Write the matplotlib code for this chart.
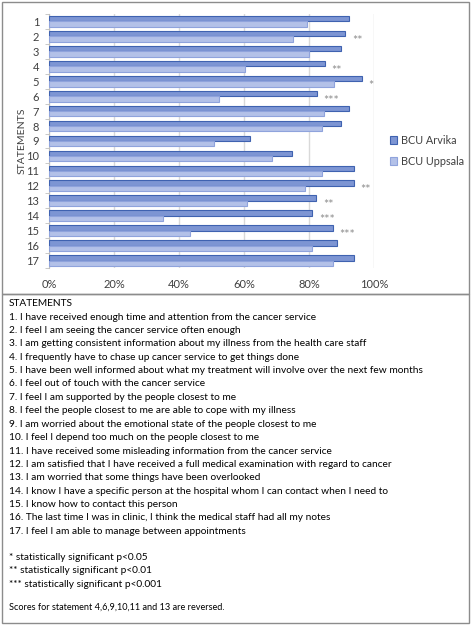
import matplotlib.pyplot as plt
import numpy as np

plt.rcParams['font.family'] = ['Lato', 'DejaVu Sans']

statements = list(range(1, 18))
arvika = [0.924, 0.912, 0.898, 0.849, 0.963, 0.824, 0.924, 0.898, 0.619,
          0.747, 0.937, 0.937, 0.823, 0.810, 0.874, 0.886, 0.937]
uppsala = [0.793, 0.750, 0.800, 0.603, 0.876, 0.522, 0.847, 0.839, 0.507,
           0.685, 0.839, 0.787, 0.610, 0.352, 0.434, 0.808, 0.874]
signif = {2: '**', 4: '**', 5: '*', 6: '***', 12: '**', 13: '**', 14: '***', 15: '***'}
xticks = [0, 0.2, 0.4, 0.6, 0.8, 1.0]
xlabels = ['0%', '20%', '40%', '60%', '80%', '100%']

texts = [
    "1. I have received enough time and attention from the cancer service",
    "2. I feel I am seeing the cancer service often enough",
    "3. I am getting consistent information about my illness from the health care staff",
    "4. I frequently have to chase up cancer service to get things done",
    "5. I have been well informed about what my treatment will involve over the next few months",
    "6. I feel out of touch with the cancer service",
    "7. I feel I am supported by the people closest to me",
    "8. I feel the people closest to me are able to cope with my illness",
    "9. I am worried about the emotional state of the people closest to me",
    "10. I feel I depend too much on the people closest to me",
    "11. I have received some misleading information from the cancer service",
    "12. I am satisfied that I have received a full medical examination with regard to cancer",
    "13. I am worried that some things have been overlooked",
    "14. I know I have a specific person at the hospital whom I can contact when I need to",
    "15. I know how to contact this person",
    "16. The last time I was in clinic, I think the medical staff had all my notes",
    "17. I feel I am able to manage between appointments",
]
notes = ["* statistically significant p<0.05",
         "** statistically significant p<0.01",
         "*** statistically significant p<0.001"]
footer = "Scores for statement 4,6,9,10,11 and 13 are reversed."

W, H = 472, 627
fig = plt.figure(figsize=(W / 100, H / 100), dpi=100)

def fy(y):
    return 1 - y / H

# outer boxes
fig.patches.append(plt.Rectangle((2 / W, fy(294)), 467 / W, 292 / H, transform=fig.transFigure,
                                 fill=False, edgecolor='#8c8c8c', lw=1))
fig.patches.append(plt.Rectangle((2 / W, fy(623)), 467 / W, 329 / H, transform=fig.transFigure,
                                 fill=False, edgecolor='#8c8c8c', lw=1))

ax = fig.add_axes([49 / W, fy(268), 325 / W, 254 / H])
y = np.array(statements)
bh = 0.36
ax.barh(y - bh / 2, arvika, height=bh, color='#7d95d3', edgecolor='#3f62b0', lw=0.8,
        label='BCU Arvika', zorder=3)
ax.barh(y + bh / 2, uppsala, height=bh, color='#b3c1e8', edgecolor='#8fa3dc', lw=0.8,
        label='BCU Uppsala', zorder=3)
for k, s in signif.items():
    ax.text(arvika[k - 1] + 0.02, k + 0.3, s, color='#8c8c8c', fontsize=9,
            ha='left', va='center')

ax.set_xlim(0, 1.0)
ax.set_ylim(17.5, 0.5)
ax.set_xticks(xticks)
ax.set_xticklabels(xlabels, fontsize=8, color='#404040')
ax.set_yticks(y)
ax.set_yticklabels([str(s) for s in statements], fontsize=8, color='#404040')
ax.set_yticks(np.arange(0.5, 18, 1), minor=True)
ax.tick_params(axis='x', length=0, pad=8)
ax.tick_params(axis='y', which='major', length=0, pad=7)
ax.tick_params(axis='y', which='minor', length=3, color='#bfbfbf')
ax.grid(axis='x', color='#d9d9d9', lw=1, zorder=0)
for sp in ['top', 'right', 'bottom']:
    ax.spines[sp].set_visible(False)
ax.spines['left'].set_color('#bfbfbf')
ax.set_ylabel('STATEMENTS', fontsize=7.5, color='#404040', labelpad=0)

fig.legend(loc='upper left', bbox_to_anchor=(380 / W, fy(125)), frameon=False,
           fontsize=7.8, handlelength=0.7, handleheight=0.7, labelspacing=0.9,
           handletextpad=0.3, labelcolor='#404040')

tx = 9 / W
fs = 7.3
fig.text(tx, fy(303), 'STATEMENTS', fontsize=fs, va='center')
for i, t in enumerate(texts):
    fig.text(tx, fy(317 + i * 13.4), t, fontsize=fs, va='center')
for i, t in enumerate(notes):
    fig.text(tx, fy(557 + i * 13.6), t, fontsize=fs, va='center')
fig.text(tx, fy(607), footer, fontsize=6.6, va='center')

fig.savefig('out.png', dpi=100)
